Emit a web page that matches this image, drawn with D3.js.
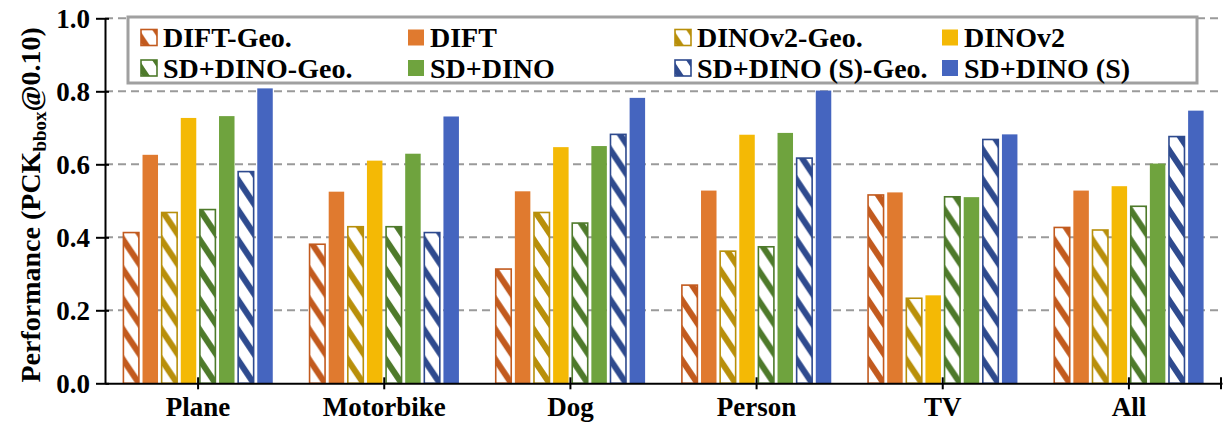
<!DOCTYPE html>
<html lang="en">
<head>
    <meta charset="UTF-8">
    <title>PCK per category</title>
    <script src="https://d3js.org/d3.v7.min.js"></script>
    <style>
        body { margin: 0; background: #fff; }
        svg text { font-family: "Liberation Serif", "Times New Roman", serif; font-weight: bold; fill: #000; }
    </style>
</head>
<body>
    <div id="chart"></div>
    <script>
        // categories on the x axis
        const categories = ["Plane", "Motorbike", "Dog", "Person", "TV", "All"];
        // series, in drawing order
        const seriesNames = ["DIFT-Geo.", "DIFT", "DINOv2-Geo.", "DINOv2",
            "SD+DINO-Geo.", "SD+DINO", "SD+DINO (S)-Geo.", "SD+DINO (S)"];
        const hatched = [true, false, true, false, true, false, true, false];
        const colors = ["#c25a1e", "#e07a2f", "#b88f0a", "#f4b905",
            "#4e7a2b", "#6fa33e", "#2e4a8e", "#4565bf"];
        // values (PCK@0.10)
        const difTGeo = [0.413, 0.381, 0.313, 0.269, 0.516, 0.427];
        const dift = [0.626, 0.525, 0.526, 0.528, 0.523, 0.528];
        const dinoGeo = [0.468, 0.429, 0.468, 0.362, 0.233, 0.420];
        const dino = [0.727, 0.610, 0.647, 0.681, 0.241, 0.540];
        const sdDinoGeo = [0.476, 0.429, 0.439, 0.374, 0.511, 0.485];
        const sdDino = [0.732, 0.629, 0.650, 0.686, 0.510, 0.602];
        const sdDinoSGeo = [0.580, 0.413, 0.682, 0.617, 0.668, 0.676];
        const sdDinoS = [0.808, 0.731, 0.782, 0.802, 0.682, 0.747];
        const values = [difTGeo, dift, dinoGeo, dino, sdDinoGeo, sdDino, sdDinoSGeo, sdDinoS];
        const yTicks = [0, 0.2, 0.4, 0.6, 0.8, 1.0];

        const W = 1223, H = 423;
        const plotLeft = 105, plotRight = 1222, plotTop = 18.3, plotBottom = 383.3;

        const svg = d3.select("#chart").append("svg")
            .attr("width", W).attr("height", H);

        const x = d3.scaleBand().domain(categories).range([plotLeft, plotRight]);
        const xs = d3.scaleBand().domain(seriesNames)
            .range([(x.bandwidth() - 153) / 2, (x.bandwidth() + 153) / 2])
            .paddingInner(0.19).paddingOuter(0.095);
        const y = d3.scaleLinear().domain([0, 1]).range([plotBottom, plotTop]);

        // hatch patterns, one per hatched series
        const defs = svg.append("defs");
        seriesNames.forEach((s, i) => {
            if (!hatched[i]) return;
            const p = defs.append("pattern")
                .attr("id", "hatch" + i)
                .attr("patternUnits", "userSpaceOnUse")
                .attr("width", 16).attr("height", 30);
            p.append("rect").attr("width", 16).attr("height", 30).attr("fill", "#fff");
            [-30, 0, 30].forEach(dy => {
                p.append("line")
                    .attr("x1", -4).attr("y1", dy - 6)
                    .attr("x2", 20).attr("y2", dy + 30)
                    .attr("stroke", colors[i]).attr("stroke-width", 6);
            });
        });

        // grid lines
        svg.append("g").selectAll("line")
            .data(yTicks.filter(d => d > 0))
            .join("line")
            .attr("x1", plotLeft).attr("x2", plotRight)
            .attr("y1", d => y(d)).attr("y2", d => y(d))
            .attr("stroke", "#9a9a9a").attr("stroke-width", 2)
            .attr("stroke-dasharray", "8,5");

        // bars
        const groups = svg.append("g").selectAll("g")
            .data(categories)
            .join("g")
            .attr("transform", d => `translate(${x(d)},0)`);

        seriesNames.forEach((s, i) => {
            groups.append("g")
                .attr("transform", `translate(${xs(s)},0)`)
                .append("rect")
                .attr("x", 0)
                .attr("width", xs.bandwidth())
                .attr("y", (c, j) => y(values[i][j]))
                .attr("height", (c, j) => plotBottom - y(values[i][j]))
                .attr("fill", hatched[i] ? `url(#hatch${i})` : colors[i])
                .attr("stroke", hatched[i] ? colors[i] : "none")
                .attr("stroke-width", 1.6);
        });

        // y axis
        const yAxis = svg.append("g")
            .attr("transform", `translate(${plotLeft},0)`)
            .call(d3.axisLeft(y).tickValues(yTicks).tickFormat(d3.format(".1f"))
                .tickSizeInner(9).tickSizeOuter(0).tickPadding(6));
        yAxis.select(".domain").attr("stroke", "#000").attr("stroke-width", 2);
        yAxis.selectAll(".tick line").attr("stroke-width", 2).attr("x1", 4);
        yAxis.selectAll(".tick text").style("font-size", "27px").attr("dy", "0.34em");

        // x axis
        const xAxis = svg.append("g")
            .attr("transform", `translate(0,${plotBottom})`)
            .call(d3.axisBottom(x).tickSizeInner(6).tickSizeOuter(0).tickPadding(8));
        xAxis.select(".domain").attr("stroke", "#000").attr("stroke-width", 2);
        xAxis.selectAll(".tick line").attr("stroke-width", 2).attr("y1", -6);
        xAxis.selectAll(".tick text").style("font-size", "27px");
        xAxis.append("line")
            .attr("x1", plotRight - 1).attr("x2", plotRight - 1)
            .attr("y1", -6).attr("y2", 6)
            .attr("stroke", "#000").attr("stroke-width", 2);

        // y label
        const yl = svg.append("text")
            .attr("transform", `translate(40,${(plotTop + plotBottom) / 2 + 4}) rotate(-90)`)
            .attr("text-anchor", "middle")
            .style("font-size", "28px");
        yl.append("tspan").text("Performance (PCK");
        yl.append("tspan").text("bbox").style("font-size", "19px").attr("dy", "6");
        yl.append("tspan").text("@0.10)").attr("dy", "-6");

        // legend
        const lg = svg.append("g");
        lg.append("rect")
            .attr("x", 128).attr("y", 17).attr("width", 1069).attr("height", 66)
            .attr("fill", "#fff").attr("stroke", "#a0a0a0").attr("stroke-width", 3);
        const colX = [141, 408, 675, 942];
        const rowY = [37.5, 68];
        seriesNames.forEach((s, i) => {
            const cx = colX[i % 4], cy = rowY[Math.floor(i / 4)];
            const item = lg.append("g").attr("transform", `translate(${cx},${cy})`);
            item.append("rect")
                .attr("x", 0).attr("y", -8).attr("width", 16).attr("height", 16)
                .attr("fill", hatched[i] ? `url(#hatch${i})` : colors[i])
                .attr("stroke", hatched[i] ? colors[i] : "none")
                .attr("stroke-width", 1.6);
            item.append("text")
                .attr("x", 22).attr("y", 0).attr("dy", "0.35em")
                .style("font-size", "28px")
                .text(s);
        });
    </script>
</body>
</html>
